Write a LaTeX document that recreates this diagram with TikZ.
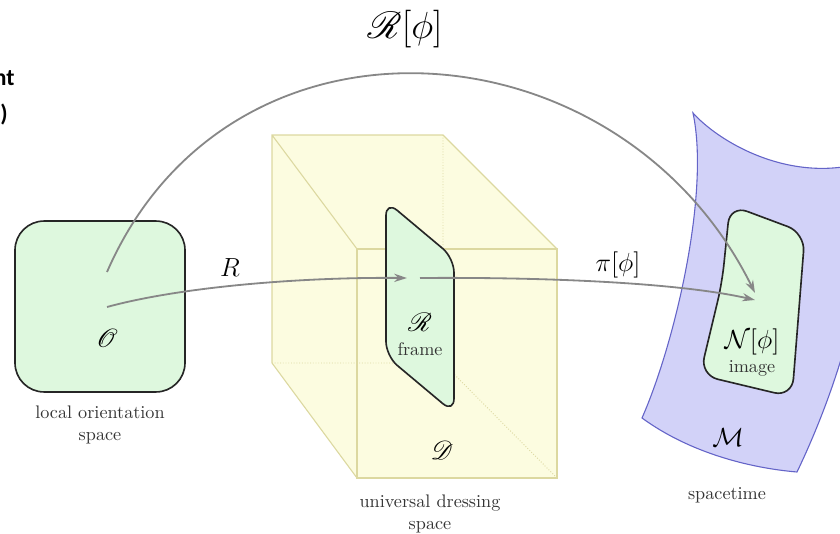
\documentclass[tikz,border=0pt]{standalone}
\usepackage{amssymb,amsmath}
\usepackage{mathrsfs}
\usepackage{fontspec}
\newfontfamily\slidefont{Carlito}
\usetikzlibrary{arrows.meta}

\definecolor{regiongreen}{RGB}{222,248,222}
\definecolor{cubefill}{RGB}{252,252,224}
\definecolor{cubeedge}{RGB}{220,216,160}
\definecolor{sheetfill}{RGB}{210,210,248}
\definecolor{sheetedge}{RGB}{100,100,200}
\definecolor{mapgray}{RGB}{135,135,135}

\begin{document}
\begin{tikzpicture}[x=0.55pt,y=0.55pt,
    region/.style={draw=black!85,fill=regiongreen,line width=0.9pt},
    mapline/.style={draw=mapgray,line width=1pt},
    maparrow/.style={mapline,-{Stealth[length=7pt,width=4.5pt]}},
    maplabel/.style={font=\Large},
    caption/.style={align=center,text=black!80,font=\normalsize}]
\useasboundingbox (0,0) rectangle (840,533);

% cut-off slide text
\node[anchor=east,inner sep=0pt,font=\slidefont\bfseries\fontsize{13}{15}\selectfont] (cuttop) at (15,455) {nt};
\node[anchor=east,inner sep=0pt,font=\slidefont\bfseries\fontsize{13}{15}\selectfont] (cutbot) at (8,418) {)};

% local orientation space
\node[region,rounded corners=16pt,minimum width=93.5pt,minimum height=94pt] (orient) at (100,226.5) {};
\node (O) at (107,195) {\Large$\mathscr{O}$};
\node[caption] (orientcap) at (100,108) {local orientation\\space};
\coordinate (o1) at (107,226);
\coordinate (o2) at (107,261);

% dressing space cube
\coordinate (b1) at (272,398);
\coordinate (b2) at (443,398);
\coordinate (b3) at (443,170);
\coordinate (b4) at (272,170);
\coordinate (f1) at (357,284);
\coordinate (f2) at (557,284);
\coordinate (f3) at (557,55);
\coordinate (f4) at (357,55);
\fill[cubefill] (b1) -- (b2) -- (f2) -- (f3) -- (f4) -- (b4) -- cycle;
\draw[cubeedge,densely dotted,line width=0.5pt] (b2) -- (b3) -- (b4) (b3) -- (f3);
\draw[cubeedge,line width=0.6pt] (b4) -- (b1) -- (b2) -- (f2) (b1) -- (f1) (b4) -- (f4);
\draw[cubeedge,line width=0.6pt] (f1) -- (f2) -- (f3) -- (f4) -- cycle;

% frame section
\draw[region,rounded corners=8pt] (386,332) -- (454,275) -- (454,120) -- (386,177) -- cycle;
\node (Rs) at (420,211) {\Large$\mathscr{R}$};
\node[text=black!80] (framecap) at (420,184) {frame};
\node (D) at (442,83) {\Large$\mathscr{D}$};
\node[caption] (dresscap) at (430,19) {universal dressing\\space};
\coordinate (r1) at (407,255);
\coordinate (p0) at (420,255);

% spacetime sheet
\draw[fill=sheetfill,draw=sheetedge,line width=0.6pt]
  (693,420) .. controls (710,340) and (675,190) .. (642,115)
  .. controls (690,80) and (750,65) .. (797,61)
  .. controls (835,140) and (880,270) .. (862,370)
  .. controls (790,350) and (720,390) .. cycle;
\draw[region,rounded corners=10pt] (730,328) -- (805,300) -- (792,136) -- (700,158) -- (722,250) -- cycle;
\node (N) at (752,191) {\Large$\mathcal{N}[\phi]$};
\node[text=black!80] (imagecap) at (752,165) {image};
\node (M) at (728,95) {\Large$\mathcal{M}$};
\node[caption] (stcap) at (727,38) {spacetime};
\coordinate (n1) at (755,233);
\coordinate (n2) at (755,240);

% maps
\draw[maparrow] (o1) .. controls (180,246) and (300,256) .. (r1);
\draw[maparrow] (p0) .. controls (550,256) and (680,250) .. (n1);
\draw[maparrow] (o2) .. controls (230,543) and (620,513) .. (n2);
\node[maplabel] (Rlab) at (230,265) {$R$};
\node[maplabel] (pilab) at (618,268) {$\pi[\phi]$};
\node[font=\huge] (bigR) at (405,504) {$\mathscr{R}[\phi]$};
\end{tikzpicture}
\end{document}
